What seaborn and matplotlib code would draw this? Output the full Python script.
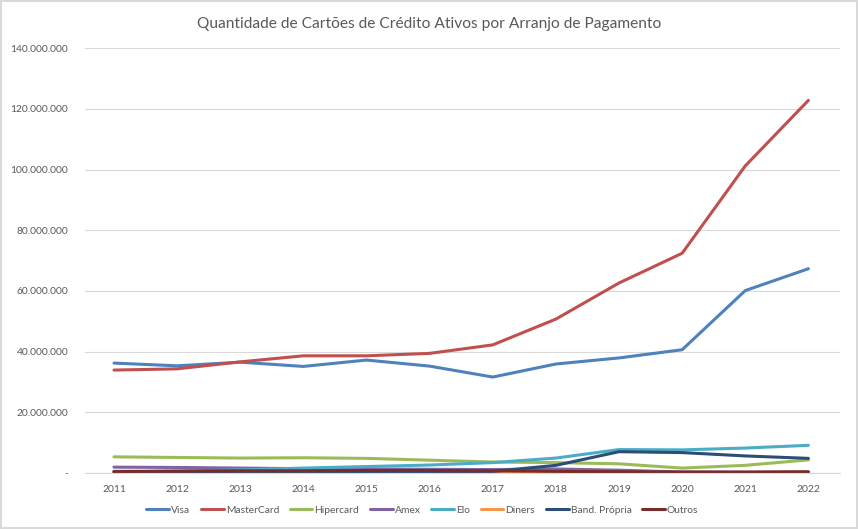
import pandas as pd
import matplotlib.pyplot as plt
import matplotlib.ticker as mticker
import seaborn as sns

# Data (millions of active credit cards)
anos = [2011, 2012, 2013, 2014, 2015, 2016, 2017, 2018, 2019, 2020, 2021, 2022]
visa = [36.2, 35.3, 36.5, 35.1, 37.2, 35.2, 31.6, 35.9, 37.9, 40.6, 60.1, 67.3]
mastercard = [33.9, 34.3, 36.6, 38.6, 38.6, 39.4, 42.2, 50.7, 62.6, 72.4, 101.2, 122.8]
hipercard = [5.3, 5.1, 4.9, 5.0, 4.8, 4.2, 3.6, 3.4, 3.0, 1.6, 2.5, 4.3]
amex = [1.9, 1.8, 1.6, 1.4, 1.3, 1.2, 1.1, 1.3, 0.9, 0.3, 0.2, 0.2]
elo = [0.3, 0.6, 1.0, 1.6, 2.1, 2.6, 3.4, 4.9, 7.7, 7.6, 8.2, 9.1]
diners = [0.1, 0.1, 0.1, 0.1, 0.1, 0.1, 0.1, 0.1, 0.1, 0.05, 0.05, 0.05]
band_propria = [0.3, 0.3, 0.3, 0.3, 0.4, 0.4, 0.5, 2.5, 7.0, 6.7, 5.6, 4.8]
outros = [0.5, 0.6, 0.7, 0.7, 0.8, 0.8, 0.7, 0.5, 0.4, 0.3, 0.3, 0.4]

series = {
    'Visa': visa,
    'MasterCard': mastercard,
    'Hipercard': hipercard,
    'Amex': amex,
    'Elo': elo,
    'Diners': diners,
    'Band. Própria': band_propria,
    'Outros': outros,
}
cores = ['#4F81BD', '#C0504D', '#9BBB59', '#8064A2', '#4BACC6', '#F79646', '#2C4D75', '#772C2A']

frames = []
for nome, vals in series.items():
    frames.append(pd.DataFrame({'Ano': anos, 'Cartoes': [v * 1e6 for v in vals], 'Arranjo': nome}))
df = pd.concat(frames, ignore_index=True)

sns.set_style('white')
plt.rcParams['font.family'] = ['Lato', 'DejaVu Sans']

fig = plt.figure(figsize=(8.58, 5.29), dpi=100, edgecolor='#D9D9D9', linewidth=1.5)
ax = fig.add_axes([0.099, 0.106, 0.880, 0.803])

sns.lineplot(data=df, x='Ano', y='Cartoes', hue='Arranjo', hue_order=list(series.keys()),
             palette=cores, linewidth=2.2, ax=ax)

ax.set_xlim(2010.54, 2022.5)
ax.set_ylim(0, 140e6)
ax.set_xticks(anos)
ax.set_yticks(range(0, 140000001, 20000000))


def fmt(v, pos):
    if v == 0:
        return '-'
    return f'{int(v):,}'.replace(',', '.')


ax.yaxis.set_major_formatter(mticker.FuncFormatter(fmt))
ax.grid(axis='y', color='#D9D9D9', linewidth=0.8)
ax.set_axisbelow(True)
for s in ['top', 'right', 'left']:
    ax.spines[s].set_visible(False)
ax.spines['bottom'].set_color('#D9D9D9')
ax.tick_params(axis='y', labelsize=7.4, colors='#595959', length=0, pad=12)
ax.tick_params(axis='x', labelsize=7.5, colors='#595959', length=0, pad=9)
ax.set_xlabel('')
ax.set_ylabel('')

fig.text(0.5, 0.955, 'Quantidade de Cartões de Crédito Ativos por Arranjo de Pagamento',
         ha='center', va='center', fontsize=11.2, color='#595959')

ax.legend(loc='upper center', bbox_to_anchor=(0.447, -0.055), ncol=8, frameon=False,
          fontsize=7.4, labelcolor='#595959', handlelength=2.2, handletextpad=0.2, columnspacing=1.05)

fig.savefig('out.png', dpi=100, edgecolor=fig.get_edgecolor())
